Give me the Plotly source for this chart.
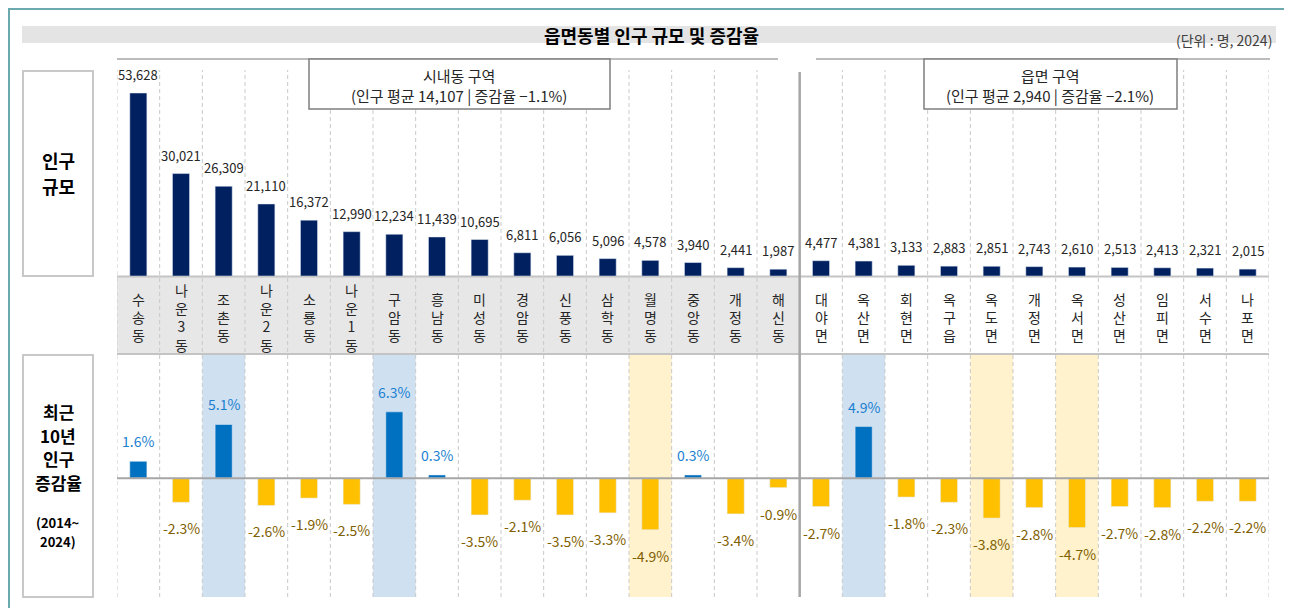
import plotly.graph_objects as go

# ---------------- data ----------------
categories = ["수송동", "나운3동", "조촌동", "나운2동", "소룡동", "나운1동", "구암동", "흥남동",
              "미성동", "경암동", "신풍동", "삼학동", "월명동", "중앙동", "개정동", "해신동",
              "대야면", "옥산면", "회현면", "옥구읍", "옥도면", "개정면", "옥서면", "성산면",
              "임피면", "서수면", "나포면"]
population = [53628, 30021, 26309, 21110, 16372, 12990, 12234, 11439, 10695, 6811, 6056, 5096,
              4578, 3940, 2441, 1987, 4477, 4381, 3133, 2883, 2851, 2743, 2610, 2513, 2413,
              2321, 2015]
growth_rate = [1.6, -2.3, 5.1, -2.6, -1.9, -2.5, 6.3, 0.3, -3.5, -2.1, -3.5, -3.3, -4.9, 0.3,
               -3.4, -0.9, -2.7, 4.9, -1.8, -2.3, -3.8, -2.8, -4.7, -2.7, -2.8, -2.2, -2.2]
n_dong = 16  # first 16 categories are 시내동
highlight_up = ["조촌동", "구암동", "옥산면"]
highlight_down = ["월명동", "옥도면", "옥서면"]
section_titles = ["시내동 구역", "읍면 구역"]
section_stats = ["(인구 평균 14,107 | 증감율 −1.1%)", "(인구 평균 2,940 | 증감율 −2.1%)"]
title_text = "읍면동별 인구 규모 및 증감율"
unit_text = "(단위 : 명, 2024)"
row_label_top = ["인구", "규모"]
row_label_bottom = ["최근", "10년", "인구", "증감율"]
row_label_years = ["(2014~", "2024)"]

# ---------------- layout helpers ----------------
OFF = 8                      # page body margin
W, H = 1292 - OFF, 608 - OFF
FONT = "Noto Sans CJK KR"


def X(px):
    return (px - OFF) / W


def Y(py):
    return 1 - (py - OFF) / H


NAVY = "#002060"
BLUE = "#0070c0"
GOLD = "#ffc000"
BLUE_TXT = "#1b7fd0"
GOLD_TXT = "#7f6000"
GRID = "#c9c9c9"
LINE = "#a6a6a6"

x_dom = [X(117), X(1269)]
n = len(categories)

fig = go.Figure()
fig.add_trace(go.Bar(x=categories, y=population, marker_color=NAVY, width=0.4,
                     xaxis="x", yaxis="y", hoverinfo="x+y"))
fig.add_trace(go.Bar(x=categories, y=growth_rate,
                     marker_color=[BLUE if v >= 0 else GOLD for v in growth_rate],
                     width=0.4, xaxis="x2", yaxis="y2", hoverinfo="x+y"))

shapes = []
# outer frame
shapes.append(dict(type="rect", xref="paper", yref="paper", x0=X(9), x1=X(1289), y0=-0.05, y1=Y(9),
                   line=dict(color="#6aa9ad", width=2), fillcolor="rgba(0,0,0,0)", layer="below"))
# title band
shapes.append(dict(type="rect", xref="paper", yref="paper", x0=X(22), x1=X(1276), y0=Y(43), y1=Y(26),
                   line=dict(width=0), fillcolor="#e4e4e4", layer="below"))
# highlight columns in bottom chart
for cat in highlight_up + highlight_down:
    i = categories.index(cat)
    col = "#cfe0f1" if cat in highlight_up else "#fff2cc"
    shapes.append(dict(type="rect", xref="x2", yref="paper", x0=i - 0.5, x1=i + 0.5,
                       y0=Y(597), y1=Y(355), line=dict(width=0), fillcolor=col, layer="below"))
# category band fill for 시내동
shapes.append(dict(type="rect", xref="x", yref="paper", x0=-0.5, x1=n_dong - 0.5,
                   y0=Y(354), y1=Y(277), line=dict(width=0), fillcolor="#e7e7e7", layer="below"))
# dashed column separators
for k in range(n + 1):
    xb = k - 0.5
    if k == n_dong:
        continue
    shapes.append(dict(type="line", xref="x", yref="paper", x0=xb, x1=xb, y0=Y(597), y1=Y(70),
                       line=dict(color=GRID, width=1, dash="4px,3px"), layer="below"))
# band borders
for py in (276.5, 354):
    shapes.append(dict(type="line", xref="paper", yref="paper", x0=X(117), x1=X(1269), y0=Y(py), y1=Y(py),
                       line=dict(color="#c4c4c4", width=2), layer="below"))
# top lines
shapes.append(dict(type="line", xref="paper", yref="paper", x0=X(117), x1=X(778), y0=Y(59), y1=Y(59),
                   line=dict(color=LINE, width=1.5), layer="below"))
shapes.append(dict(type="line", xref="paper", yref="paper", x0=X(816), x1=X(1270), y0=Y(59), y1=Y(59),
                   line=dict(color=LINE, width=1.5), layer="below"))
# vertical separator between groups
shapes.append(dict(type="line", xref="x", yref="paper", x0=n_dong - 0.5, x1=n_dong - 0.5,
                   y0=Y(597), y1=Y(72), line=dict(color=LINE, width=2.5), layer="below"))
# zero line bottom chart
shapes.append(dict(type="line", xref="paper", yref="y2", x0=X(117), x1=X(1269), y0=0, y1=0,
                   line=dict(color=LINE, width=2), layer="above"))
# left row label boxes
for (t, b) in ((71, 276), (355, 597)):
    shapes.append(dict(type="rect", xref="paper", yref="paper", x0=X(23), x1=X(93), y0=Y(b), y1=Y(t),
                       line=dict(color="#c8c8c8", width=2), fillcolor="white", layer="below"))
# section boxes
for (l, r) in ((309, 610), (924, 1177)):
    shapes.append(dict(type="rect", xref="paper", yref="paper", x0=X(l), x1=X(r), y0=Y(109), y1=Y(59),
                       line=dict(color="#7f7f7f", width=1.5), fillcolor="white", layer="below"))

ann = []
# title & unit
ann.append(dict(text=title_text, x=X(651), y=Y(35), xref="paper", yref="paper", showarrow=False,
                font=dict(family=FONT, size=18, color="#000000", weight="bold"),
                xanchor="center", yanchor="middle"))
ann.append(dict(text=unit_text, x=X(1274), y=Y(40), xref="paper", yref="paper", showarrow=False,
                font=dict(family=FONT, size=14, color="#404040"), xanchor="right", yanchor="middle"))
# section box texts
for (cx, t1, t2) in ((459, section_titles[0], section_stats[0]), (1050, section_titles[1], section_stats[1])):
    ann.append(dict(text=t1, x=X(cx), y=Y(75), xref="paper", yref="paper", showarrow=False,
                    font=dict(family=FONT, size=15, color="#262626"), xanchor="center", yanchor="middle"))
    ann.append(dict(text=t2, x=X(cx), y=Y(95), xref="paper", yref="paper", showarrow=False,
                    font=dict(family=FONT, size=15, color="#262626"), xanchor="center", yanchor="middle"))


def stacked(lines, cy, spacing, size):
    y0 = cy - spacing * (len(lines) - 1) / 2
    for j, t in enumerate(lines):
        ann.append(dict(text=t, x=X(58), y=Y(y0 + j * spacing), xref="paper", yref="paper",
                        showarrow=False, borderpad=0,
                        font=dict(family=FONT, size=size, color="#000000", weight="bold"),
                        xanchor="center", yanchor="middle"))


# row labels
stacked(row_label_top, 173, 25.5, 18)
stacked(row_label_bottom, 447, 23.5, 17)
stacked(row_label_years, 532, 19, 13)

# category labels (vertical stacked)
for c in categories:
    ann.append(dict(text="<br>".join(list(c)), x=c, y=Y(317), xref="x", yref="paper", showarrow=False,
                    font=dict(family=FONT, size=14, color="#262626"), xanchor="center", yanchor="middle"))
# population labels
for c, v in zip(categories, population):
    ann.append(dict(text=f"{v:,}", x=c, y=v, xref="x", yref="y", showarrow=False,
                    font=dict(family=FONT, size=13, color="#262626"),
                    xanchor="center", yanchor="bottom", yshift=7))
# growth labels
for c, v in zip(categories, growth_rate):
    pos = v >= 0
    ann.append(dict(text=f"{v:.1f}%", x=c, y=v, xref="x2", yref="y2", showarrow=False,
                    font=dict(family=FONT, size=14, color=BLUE_TXT if pos else GOLD_TXT),
                    xanchor="center", yanchor="bottom" if pos else "top",
                    yshift=8 if pos else -14))

axis_common = dict(showgrid=False, zeroline=False, showticklabels=False, ticks="", showline=False)
fig.update_layout(
    width=W, height=H,
    margin=dict(l=0, r=0, t=0, b=0),
    paper_bgcolor="white", plot_bgcolor="rgba(0,0,0,0)",
    showlegend=False,
    font=dict(family=FONT),
    xaxis=dict(domain=x_dom, range=[-0.5, n - 0.5], anchor="y", **axis_common),
    yaxis=dict(domain=[Y(276), Y(59)], range=[0, 63600], anchor="x", **axis_common),
    xaxis2=dict(domain=x_dom, range=[-0.5, n - 0.5], anchor="y2", matches="x", **axis_common),
    yaxis2=dict(domain=[Y(597), Y(354)], range=[-11.3, 11.8], anchor="x2", **axis_common),
    shapes=shapes,
    annotations=ann,
)

fig.write_html("out.html")
